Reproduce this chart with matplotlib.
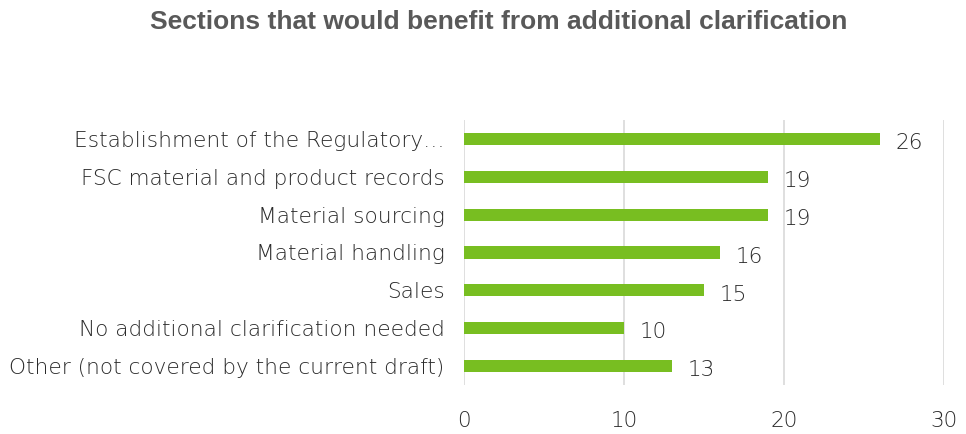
import matplotlib
matplotlib.use("Agg")
import matplotlib.pyplot as plt

categories = [
    "Establishment of the Regulatory…",
    "FSC material and product records",
    "Material sourcing",
    "Material handling",
    "Sales",
    "No additional clarification needed",
    "Other (not covered by the current draft)",
]
values = [26, 19, 19, 16, 15, 10, 13]
xticks = [0, 10, 20, 30]
title = "Sections that would benefit from additional clarification"

FONT = "DejaVu Sans"
W = "light"
FS = 15.6
TC = "#2a2a2a"

fig = plt.figure(figsize=(9.66, 4.34), dpi=100)
ax = fig.add_axes([464/966, 1-385/434, 480/966, 265/434])

ypos = list(range(len(categories)))
ax.barh(ypos, values, height=0.32, color="#78BE21", zorder=3)
ax.set_ylim(len(categories) - 0.5, -0.5)
ax.set_xlim(0, 30)
ax.set_xticks(xticks)
ax.set_yticks(ypos)
ax.set_yticklabels(categories, family=FONT, fontweight=W, fontsize=FS, color=TC)
ax.set_xticklabels([str(t) for t in xticks], family=FONT, fontweight=W, fontsize=FS, color=TC)
ax.tick_params(axis="x", length=0, pad=19)
ax.tick_params(axis="y", length=0, pad=14)
ax.grid(axis="x", color="#d9d9d9", linewidth=1.2, zorder=0)
for s in ax.spines.values():
    s.set_visible(False)

for y, v in zip(ypos, values):
    ax.annotate(str(v), (v, y), xytext=(11, -3), textcoords="offset points",
                ha="left", va="center", family=FONT, fontweight=W,
                fontsize=FS, color=TC)

fig.text(150/966, 1-22/434, title, ha="left", va="center", family="Liberation Sans",
         fontweight="bold", fontsize=19, color="#595959")

fig.savefig("out.png", dpi=100)
